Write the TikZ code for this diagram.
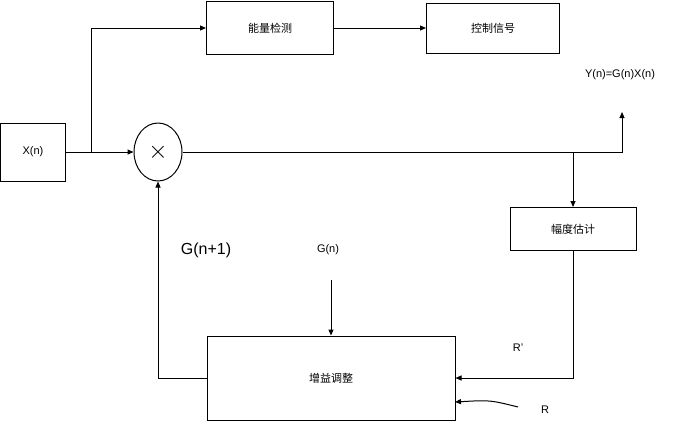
\documentclass[tikz,border=0pt]{standalone}
\usepackage{fontspec}
\setmainfont{Liberation Sans}
\newfontfamily\cjk{Noto Sans CJK SC}
\usetikzlibrary{arrows.meta,shapes.geometric}
\begin{document}
\begin{tikzpicture}
    [x=1pt,y=-1pt,>={Triangle[length=6pt,width=5pt]},
     box/.style={draw,line width=1pt,inner sep=0pt,font=\cjk\fontsize{11}{13}\selectfont},
     lbl/.style={font=\fontsize{11}{13}\selectfont},
     wire/.style={line width=1pt}]
  \useasboundingbox (0,0) rectangle (684,432);

  % blocks
  \node[box,minimum width=65pt,minimum height=58pt] (xin) at (33,152) {\rmfamily X(n)};
  \node[draw,line width=1pt,ellipse,minimum width=48pt,minimum height=58pt,inner sep=0pt] (mul) at (158,152) {};
  \node[font=\fontsize{26}{26}\selectfont] at (mul) {$\times$};
  \node[box,minimum width=127pt,minimum height=53pt] (det) at (270,28) {能量检测};
  \node[box,minimum width=133pt,minimum height=50pt] (ctl) at (493,28) {控制信号};
  \node[box,minimum width=126pt,minimum height=43pt] (amp) at (573,229) {幅度估计};
  \node[box,minimum width=248pt,minimum height=84pt] (gain) at (331,378) {增益调整};

  % labels
  \node[lbl] (yout) at (620,75) {Y(n)=G(n)X(n)};
  \node[lbl] (gn) at (328,250) {G(n)};
  \node[font=\fontsize{16}{18}\selectfont] (gn1) at (206,250) {G(n+1)};
  \node[lbl] (rp) at (518,348) {R'};
  \node[lbl] (r) at (545,410) {R};

  \coordinate (split) at (91,152);
  \coordinate (tap) at (573,152);
  \coordinate (yend) at (622,112);
  \coordinate (gtop) at (331,280);
  \coordinate (rstart) at (518,407);

  % connectors
  \draw[wire,->] (xin.east) -- (mul.west);
  \draw[wire,->] (split) |- (det.west);
  \draw[wire,->] (det.east) -- (ctl.west);
  \draw[wire] (mul.east) -- (tap);
  \draw[wire,->] (tap) -| (yend);
  \draw[wire,->] (tap) -- (amp.north);
  \draw[wire,->] (amp.south) |- (gain.east);
  \draw[wire,->] (gtop) -- (gain.north);
  \draw[wire,->] (rstart) .. controls (490,400) .. (455,402);
  \draw[wire,->] (gain.west) -| (mul.south);
\end{tikzpicture}
\end{document}
